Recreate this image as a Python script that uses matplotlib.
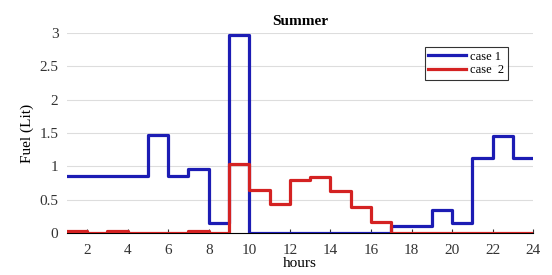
import numpy as np
import matplotlib.pyplot as plt

plt.rcParams['font.family'] = ['Liberation Serif', 'DejaVu Serif']

# hourly fuel use, value holds from hour h to h+1
hours = np.arange(1, 25)
case1 = [0.86, 0.86, 0.86, 0.86, 1.47, 0.86, 0.96, 0.15, 2.97, 0, 0, 0,
         0, 0, 0, 0, 0.10, 0.10, 0.35, 0.15, 1.12, 1.45, 1.12]
case2 = [0.03, 0.0, 0.03, 0, 0, 0, 0.03, 0.0, 1.03, 0.65, 0.43, 0.80,
         0.84, 0.63, 0.39, 0.16, 0, 0, 0, 0, 0, 0, 0]
x_ticks = np.arange(2, 25, 2)
y_ticks = [0, 0.5, 1, 1.5, 2, 2.5, 3]
y_tick_labels = ['0', '0.5', '1', '1.5', '2', '2.5', '3']

fig = plt.figure(figsize=(5.52, 2.75), dpi=100)
ax = fig.add_axes([0.121, 0.153, 0.845, 0.727])

ax.step(hours, case1 + [case1[-1]], where='post', color='#1c1cb4', lw=2.3, label='case 1', zorder=3)
ax.step(hours, case2 + [case2[-1]], where='post', color='#d42222', lw=2.3, label='case  2', zorder=3)

ax.set_xlim(1, 24)
ax.set_ylim(0, 3)
ax.set_xticks(x_ticks)
ax.set_yticks(y_ticks)
ax.set_yticklabels(y_tick_labels)
ax.grid(axis='y', color='#dddddd', lw=0.8)
ax.set_axisbelow(True)
for s in ['top', 'right', 'left']:
    ax.spines[s].set_visible(False)
ax.spines['bottom'].set_linewidth(0.8)
ax.tick_params(axis='x', direction='in', length=3, labelsize=11, colors='#333333', pad=8)
ax.tick_params(axis='y', length=0, labelsize=11, colors='#333333', pad=6)

ax.set_title('Summer', fontsize=11, fontweight='bold', pad=6)
ax.set_xlabel('hours', fontsize=11, labelpad=0)
ax.set_ylabel('Fuel (Lit)', fontsize=11, labelpad=4)

leg = ax.legend(loc='upper right', bbox_to_anchor=(0.945, 0.93), fontsize=9,
                frameon=True, fancybox=False, edgecolor='black', handlelength=3,
                handletextpad=0.3, borderpad=0.3, labelspacing=0.1, borderaxespad=0)
leg.get_frame().set_linewidth(0.8)

fig.savefig('out.png', dpi=100)
